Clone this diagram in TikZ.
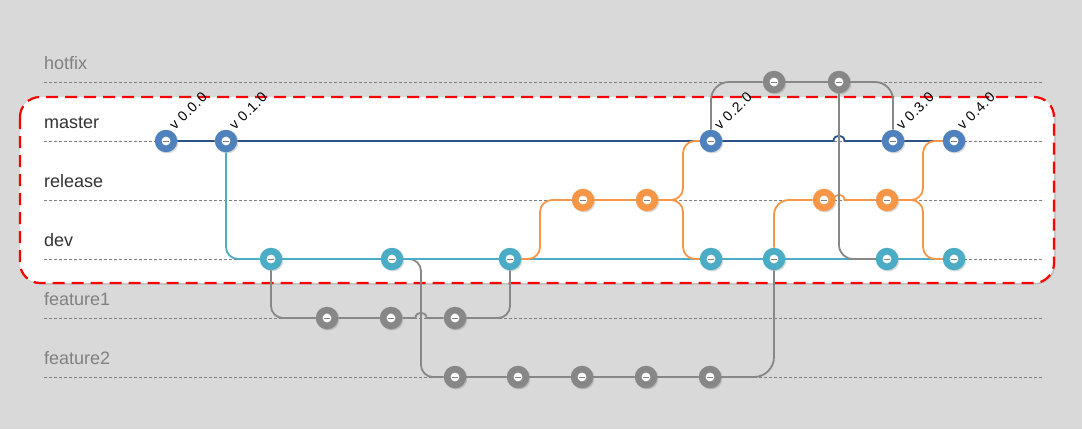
\documentclass[tikz,border=0pt]{standalone}
\usepackage{fontspec}
\setmainfont{Liberation Sans}
\usetikzlibrary{calc,shadows}

\definecolor{bggray}{HTML}{D9D9D9}
\definecolor{lanegray}{HTML}{808080}
\definecolor{lanetext}{HTML}{333333}
\definecolor{mastercol}{HTML}{4F81BD}
\definecolor{masterdark}{HTML}{2B5287}
\definecolor{devcol}{HTML}{4BACC6}
\definecolor{relcol}{HTML}{F79646}
\definecolor{fixcol}{HTML}{878787}

\tikzset{
  commit/.style={circle, fill=#1, minimum size=22.5pt, inner sep=0pt,
    drop shadow={shadow xshift=1.2pt, shadow yshift=-1.2pt, fill=black, opacity=0.15},
    path picture={
      \fill[white] (path picture bounding box.center) circle (4.4pt);
      \draw[lanegray, line width=0.5pt] ([xshift=-2.6pt]path picture bounding box.center)
        -- ([xshift=2.6pt]path picture bounding box.center);
    }},
  branch/.style={draw=#1, line width=1.8pt},
  lanename/.style={anchor=base west, inner sep=0pt, text=#1,
    font=\fontsize{18}{20}\selectfont},
  lane/.style={lanegray, line width=0.7pt, dash pattern=on 3pt off 2pt},
  tag/.style={anchor=base west, inner sep=0pt, rotate=45,
    font=\fontsize{14}{14}\selectfont\addfontfeatures{LetterSpace=6}}
}

\begin{document}
\begin{tikzpicture}[x=1pt, y=-1pt]
        \useasboundingbox (0,0) rectangle (1082,429);
        \fill[bggray] (0,0) rectangle (1082,429);

        % dev area frame
        \draw[red, line width=2.2pt, dash pattern=on 12pt off 7pt, fill=white, rounded corners=20pt,
              drop shadow={shadow xshift=1.5pt, shadow yshift=-1.5pt, fill=black, opacity=0.12}]
              (20,97) rectangle (1054,283);

        % lanes
        \foreach \lname/\ly/\lcol in {hotfix/82/lanegray, master/141/lanetext, release/200/lanetext,
                                      dev/259/lanetext, feature1/318/lanegray, feature2/377/lanegray} {
            \draw[lane] (44,\ly) -- (1044,\ly);
            \node[lanename=\lcol] (\lname) at (44,\ly-13) {\lname};
        }

        % commits
        \foreach \n/\x in {m0/166, m1/226, m2/711, m3/893, m4/954}
            \node[commit=mastercol] (\n) at (\x,141) {};
        \foreach \n/\x in {d1/271, d2/392, d3/510, d4/711, d5/774, d6/887, d7/954}
            \node[commit=devcol] (\n) at (\x,259) {};
        \foreach \n/\x in {r1/583, r2/647, r3/824, r4/887}
            \node[commit=relcol] (\n) at (\x,200) {};
        \foreach \n/\x in {h1/774, h2/839}
            \node[commit=fixcol] (\n) at (\x,82) {};
        \foreach \n/\x in {fa1/327, fa2/391, fa3/455}
            \node[commit=fixcol] (\n) at (\x,318) {};
        \foreach \n/\x in {fb1/455, fb2/518, fb3/582, fb4/646, fb5/710}
            \node[commit=fixcol] (\n) at (\x,377) {};

        \coordinate (f2top) at (421,259);
        \coordinate (relfork) at (540,200);
        \coordinate (relup1) at (683,170);
        \coordinate (reldown1) at (683,230);
        \coordinate (relup2) at (923,170);
        \coordinate (reldown2) at (923,230);

        % feature branches
        \draw[branch=fixcol, rounded corners=12pt] (d1) |- (fa1);
        \draw[branch=fixcol] (fa1) -- (fa2) -- ($(f2top|-fa2)+(-5.5,0)$)
            .. controls +(0,-7) and +(0,-7) .. ($(f2top|-fa2)+(5.5,0)$) -- (fa3);
        \draw[branch=fixcol, rounded corners=12pt] (fa3) -| (d3);
        \draw[branch=fixcol, rounded corners=12pt] (d2) -- (f2top) |- (fb1);
        \draw[branch=fixcol] (fb1) -- (fb2) -- (fb3) -- (fb4) -- (fb5);
        \draw[branch=fixcol, rounded corners=20pt] (fb5) -| (d5);

        % master and dev
        \draw[branch=masterdark] (m0) -- (m1) -- (m2) -- ($(h2|-m2)+(-5.5,0)$)
            .. controls +(0,-7) and +(0,-7) .. ($(h2|-m2)+(5.5,0)$) -- (m3) -- (m4);
        \draw[branch=devcol, rounded corners=12pt] (m1) |- (d1);
        \draw[branch=devcol] (d1) -- (d2) -- (d3) -- (d4) -- (d5) -- (d6) -- (d7);

        % release branches
        \draw[branch=relcol, rounded corners=12pt] (d3) -| (relfork) -- (r1);
        \draw[branch=relcol] (r1) -- (r2);
        \draw[branch=relcol, rounded corners=12pt] (r2) -| (relup1) |- (m2);
        \draw[branch=relcol, rounded corners=12pt] (r2) -| (reldown1) |- (d4);
        \draw[branch=relcol, rounded corners=15pt] (d5) |- (r3);
        \draw[branch=relcol] (r3) -- ($(h2|-r3)+(-5.5,0)$)
            .. controls +(0,-7) and +(0,-7) .. ($(h2|-r3)+(5.5,0)$) -- (r4);
        \draw[branch=relcol, rounded corners=12pt] (r4) -| (relup2) |- (m4);
        \draw[branch=relcol, rounded corners=12pt] (r4) -| (reldown2) |- (d7);

        % hotfix
        \draw[branch=fixcol, rounded corners=18pt] (m2) |- (h1);
        \draw[branch=fixcol] (h1) -- (h2);
        \draw[branch=fixcol, rounded corners=18pt] (h2) -| (m3);
        \draw[branch=fixcol, rounded corners=14pt] (h2) |- (d6);

        % version tags
        \foreach \c/\v in {m0/0.0.0, m1/0.1.0, m2/0.2.0, m3/0.3.0, m4/0.4.0}
            \node[tag] (tag-\c) at ($(\c)+(9,-10)$) {v \v};
\end{tikzpicture}
\end{document}
